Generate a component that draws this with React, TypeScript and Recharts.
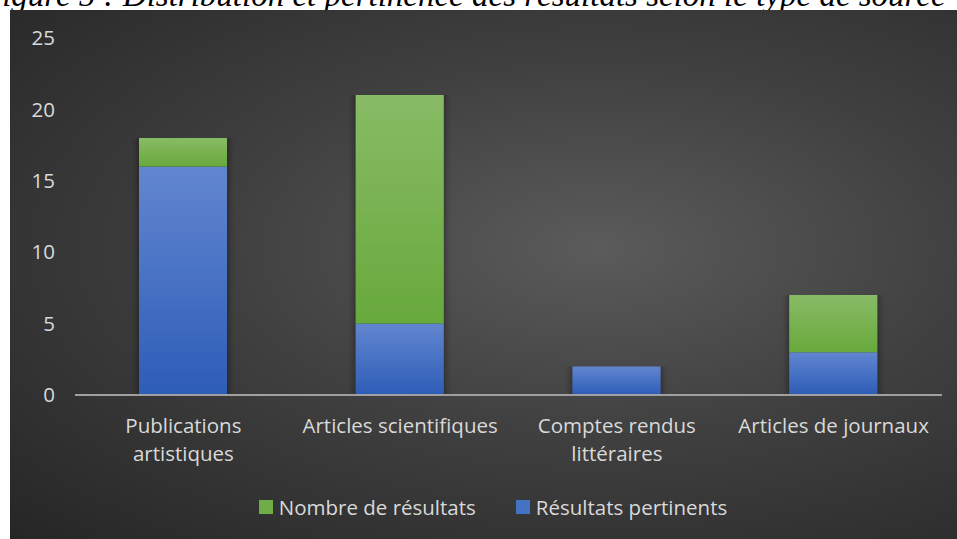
import { Bar, BarChart, XAxis, YAxis, Legend } from 'recharts'

const categories = ['Publications artistiques', 'Articles scientifiques', 'Comptes rendus littéraires', 'Articles de journaux']
const tickLines = [['Publications', 'artistiques'], ['Articles scientifiques'], ['Comptes rendus', 'littéraires'], ['Articles de journaux']]
const pertinents = [16, 5, 2, 3]
const nombre = [2, 16, 0, 4]
const yTicks = [0, 5, 10, 15, 20, 25]

const data = categories.map((c, i) => ({ name: c, pertinents: pertinents[i], nombre: nombre[i] }))

const FONT = '"Open Sans", sans-serif'
const TEXT = '#d9d9d9'

function CatTick(props: any) {
  const { x, y, payload } = props
  const idx = categories.indexOf(payload.value)
  const lines = tickLines[idx] ?? [payload.value]
  return (
    <g transform={`translate(${x},${y})`}>
      {lines.map((l, i) => (
        <text key={i} x={0} y={30 + i * 28} textAnchor="middle" fill={TEXT} fontSize={20.5} fontFamily={FONT}>
          {l}
        </text>
      ))}
    </g>
  )
}

function LegendContent() {
  const items = [
    { label: 'Nombre de résultats', color: '#70ad47' },
    { label: 'Résultats pertinents', color: '#4472c4' },
  ]
  return (
    <div
      style={{
        display: 'flex',
        justifyContent: 'center',
        gap: 40,
        paddingTop: 6,
        paddingLeft: 34,
        fontFamily: FONT,
        fontSize: 20.5,
        color: TEXT,
      }}
    >
      {items.map((it) => (
        <div key={it.label} style={{ display: 'flex', alignItems: 'center', gap: 6 }}>
          <span style={{ width: 14, height: 14, background: it.color, display: 'inline-block' }} />
          <span>{it.label}</span>
        </div>
      ))}
    </div>
  )
}

export default function App() {
  return (
    <div style={{ position: 'fixed', left: 0, top: 0, width: 957, height: 539, background: '#fff', overflow: 'hidden' }}>
      <div
        style={{
          position: 'absolute',
          left: -18,
          top: -21,
          whiteSpace: 'nowrap',
          fontFamily: '"Liberation Serif", serif',
          fontStyle: 'italic',
          fontSize: 33,
          lineHeight: 1,
          color: '#000',
        }}
      >
        Figure 5 : Distribution et pertinence des résultats selon le type de source
      </div>
      <div
        style={{
          position: 'absolute',
          left: 10,
          top: 10,
          width: 947,
          height: 529,
          background: 'radial-gradient(ellipse at 62% 45%, #5b5b5b 0%, #404040 45%, #262626 100%)',
        }}
      >
        <BarChart width={947} height={529} data={data} margin={{ top: 28, right: 15, left: 0, bottom: 12 }} barSize={88}>
          <defs>
            <linearGradient id="gBlue" x1="0" y1="0" x2="0" y2="1">
              <stop offset="0%" stopColor="#6286d0" />
              <stop offset="100%" stopColor="#2d5db7" />
            </linearGradient>
            <linearGradient id="gGreen" x1="0" y1="0" x2="0" y2="1">
              <stop offset="0%" stopColor="#88bb66" />
              <stop offset="100%" stopColor="#68a93c" />
            </linearGradient>
            <filter id="shadow" x="-20%" y="-10%" width="140%" height="120%">
              <feDropShadow dx="0" dy="0" stdDeviation="4 0" floodColor="#000" floodOpacity="0.55" />
            </filter>
          </defs>
          <XAxis
            dataKey="name"
            tick={<CatTick />}
            tickLine={false}
            axisLine={{ stroke: '#a0a0a0', strokeWidth: 2 }}
            height={92}
            interval={0}
          />
          <YAxis
            domain={[0, 25]}
            ticks={yTicks}
            width={65}
            axisLine={false}
            tickLine={false}
            tick={{ fill: TEXT, fontSize: 20.5, fontFamily: FONT, dx: -12 }}
          />
          <Legend content={<LegendContent />} verticalAlign="bottom" height={40} />
          <Bar dataKey="pertinents" stackId="a" fill="url(#gBlue)" filter="url(#shadow)" isAnimationActive={false} />
          <Bar dataKey="nombre" stackId="a" fill="url(#gGreen)" filter="url(#shadow)" isAnimationActive={false} />
        </BarChart>
      </div>
    </div>
  )
}
